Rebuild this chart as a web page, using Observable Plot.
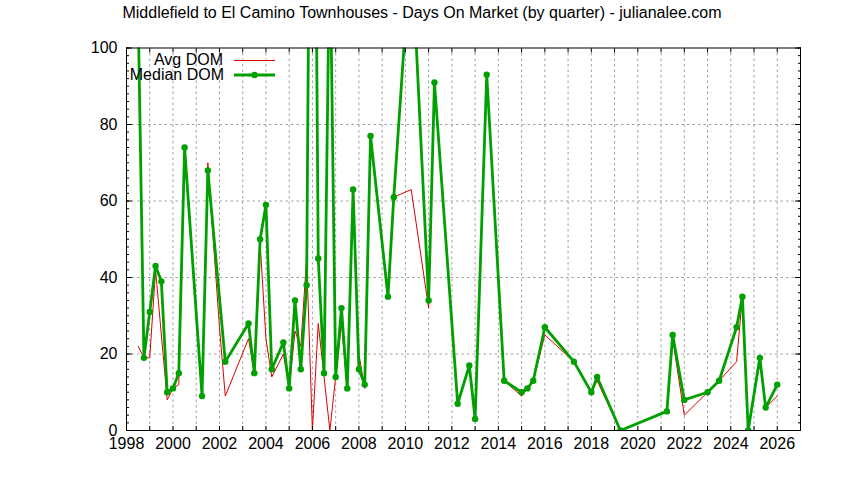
<!DOCTYPE html>
<html><head><meta charset="utf-8">
<script src="https://cdn.jsdelivr.net/npm/d3@7"></script>
<script src="https://cdn.jsdelivr.net/npm/@observablehq/plot@0.6"></script>
<style>
body{margin:0;background:#fff;}
#wrap{position:relative;width:844px;height:480px;font-family:"Liberation Sans",Arial,sans-serif;overflow:hidden;}
#title{position:absolute;left:0;top:5px;width:844px;text-align:center;font-size:16px;line-height:15px;color:#000;white-space:nowrap;}
#chart{position:absolute;left:0;top:26px;}
#legend{position:absolute;left:0;top:0;pointer-events:none;}
</style></head><body>
<div id="wrap">
<div id="title">Middlefield to El Camino Townhouses - Days On Market (by quarter) - julianalee.com</div>
<div id="chart"></div>
<svg id="legend" width="844" height="480"></svg>
</div>
<script>
// Average DOM series (quarter as decimal year, days)
const avgQuarters = [1998.5,1998.75,1999.0,1999.25,1999.75,2000.0,2000.25,2000.5,2001.25,2001.5,2002.0,2002.25,
  2003.25,2003.5,2003.75,2004.0,2004.25,2004.75,2005.0,2005.25,2005.5,2005.75,2006.0,2006.25,2006.5,2006.75,
  2007.0,2007.25,2007.5,2007.75,2008.0,2008.25,2008.5,2009.25,2009.5,2010.25,2011.0,2011.25,2012.25,2012.75,
  2013.0,2013.5,2014.25,2015.0,2015.25,2015.5,2016.0,2017.25,2018.0,2018.25,2019.25,2021.25,2021.5,2022.0,
  2023.0,2023.5,2024.25,2024.5,2024.75,2025.25,2025.5,2026.0];
const avgDOM = [22,19,19,42,8,11,12,72,10,70,27,9,
  24,15,49,24,14,20,11,26,22,45,0,28,14,0,
  14,28,11,62,20,11,77,35,61,63,32,91,7,17,
  3,93,13,9,11,13,25,18,10,13,0,5,24,4,
  10,13,18,35,0,18,6,9];

// Median DOM series
const medianQuarters = [1998.5,1998.75,1999.0,1999.25,1999.5,1999.75,2000.0,2000.25,2000.5,2001.25,2001.5,2002.25,
  2003.25,2003.5,2003.75,2004.0,2004.25,2004.75,2005.0,2005.25,2005.5,2005.75,2006.0,2006.25,2006.5,2006.75,
  2007.0,2007.25,2007.5,2007.75,2008.0,2008.25,2008.5,2009.25,2009.5,2010.25,2011.0,2011.25,2012.25,2012.75,
  2013.0,2013.5,2014.25,2015.0,2015.25,2015.5,2016.0,2017.25,2018.0,2018.25,2019.25,2021.25,2021.5,2022.0,
  2023.0,2023.5,2024.25,2024.5,2024.75,2025.25,2025.5,2026.0];
const medianDOM = [110,19,31,43,39,10,11,15,74,9,68,18,
  28,15,50,59,16,23,11,34,16,38,250,45,15,130,
  14,32,11,63,16,12,77,35,61,128,34,91,7,17,
  3,93,13,10,11,13,27,18,10,14,0,5,25,8,
  10,13,27,35,0,19,6,12];

const yearLabels = [1998,2000,2002,2004,2006,2008,2010,2012,2014,2016,2018,2020,2022,2024,2026];
const gridYears = [1999,2000,2001,2002,2003,2004,2005,2006,2007,2008,2009,2010,2011,2012,2013,2014,2015,2016,2017,2018,2019,2020,2021,2022,2023,2024,2025,2026];
const yLabels = [0,20,40,60,80,100];
const yGrid = [20,40,60,80];

const seriesNames = ["Avg DOM","Median DOM"];
const colors = ["#dd0000","#00a000"];

const avg = avgQuarters.map((q,i)=>({x:q, y:avgDOM[i]}));
const med = medianQuarters.map((q,i)=>({x:q, y:medianDOM[i]}));

const yMinor = d3.range(0,101,2);
const blank = () => "";

const chart = Plot.plot({
  width: 844, height: 454,
  marginTop: 21.5, marginBottom: 50, marginLeft: 126, marginRight: 44,
  x: {domain:[1998,2027]},
  y: {domain:[0,100]},
  style: {fontFamily:"'Liberation Sans', Arial, sans-serif", fontSize:"16px", color:"#000", background:"#fff", overflow:"visible"},
  marks: [
    Plot.gridX(gridYears, {stroke:"#a0a0a0", strokeOpacity:1, strokeDasharray:"2.5,3"}),
    Plot.gridY(yGrid, {stroke:"#a0a0a0", strokeOpacity:1, strokeDasharray:"2.5,3"}),
    Plot.line(avg, {x:"x", y:"y", stroke:colors[0], strokeWidth:1, clip:true}),
    Plot.line(med, {x:"x", y:"y", stroke:colors[1], strokeWidth:2.8, clip:true}),
    Plot.dot(med, {x:"x", y:"y", r:3.2, fill:colors[1], stroke:null, clip:true}),
    Plot.frame({stroke:"#000"}),
    Plot.axisX(yearLabels, {anchor:"bottom", tickSize:0, tickPadding:7, tickFormat:d=>String(d), label:null}),
    Plot.axisX(gridYears, {anchor:"bottom", tickSize:-4, tickFormat:blank, label:null}),
    Plot.axisX(gridYears, {anchor:"top", tickSize:-4, tickFormat:blank, label:null}),
    Plot.axisY(yLabels, {anchor:"left", tickSize:0, tickPadding:9, label:null}),
    Plot.axisY(yMinor, {anchor:"left", tickSize:-3, tickFormat:blank, label:null}),
    Plot.axisY(yLabels, {anchor:"left", tickSize:-6, tickFormat:blank, label:null}),
    Plot.axisY(yMinor, {anchor:"right", tickSize:-3, tickFormat:blank, label:null}),
    Plot.axisY(yLabels, {anchor:"right", tickSize:-6, tickFormat:blank, label:null})
  ]
});
document.getElementById("chart").appendChild(chart);

// Legend (key) inside the plot area, top-left
const lg = d3.select("#legend");
const font = "'Liberation Sans', Arial, sans-serif";
lg.append("text").attr("x",223).attr("y",64.5).attr("text-anchor","end")
  .attr("font-family",font).attr("font-size",16).attr("fill","#000").text(seriesNames[0]);
lg.append("line").attr("x1",234).attr("x2",275).attr("y1",60.5).attr("y2",60.5)
  .attr("stroke",colors[0]).attr("stroke-width",1);
lg.append("text").attr("x",224).attr("y",79.5).attr("text-anchor","end")
  .attr("font-family",font).attr("font-size",16).attr("fill","#000").text(seriesNames[1]);
lg.append("line").attr("x1",234).attr("x2",275).attr("y1",75).attr("y2",75)
  .attr("stroke",colors[1]).attr("stroke-width",2.8);
lg.append("circle").attr("cx",254.5).attr("cy",75).attr("r",3.2).attr("fill",colors[1]);
</script>
</body></html>
